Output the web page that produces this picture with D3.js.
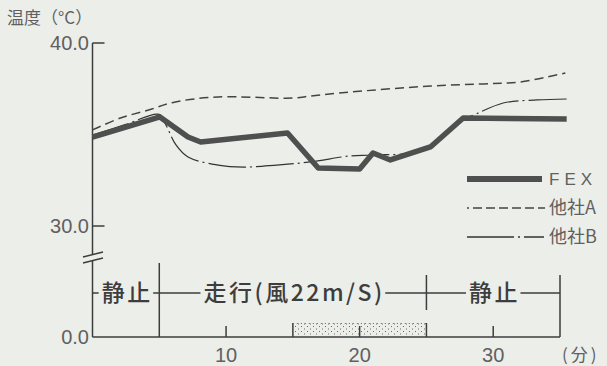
<!DOCTYPE html>
<html>
<head>
<meta charset="utf-8">
<script src="https://cdn.jsdelivr.net/npm/d3@7"></script>
<style>
  html, body { margin: 0; padding: 0; background: #eceeea; }
  svg { display: block; }
</style>
</head>
<body>
<svg id="chart" width="607" height="366"></svg>
<script>
// Elapsed time (minutes) and surface temperature (°C) for each product
const fexTime = [0, 5.05, 7.15, 8.1, 14.6, 16.9, 20.0, 21.0, 22.3, 25.3, 27.75, 35.5];
const fexTemp = [34.86, 35.96, 34.86, 34.59, 35.08, 33.17, 33.11, 33.99, 33.61, 34.32, 35.90, 35.85];

const aTime = [0, 2.1, 4.2, 6.2, 9.4, 15.0, 16.3, 19.3, 25.3, 29.0, 32.0, 35.4];
const aTemp = [35.25, 35.90, 36.34, 36.78, 37.05, 36.99, 37.10, 37.32, 37.65, 37.76, 37.87, 38.36];

const bTime = [0, 2.5, 5.0, 5.5, 6.25, 7.15, 9.4, 11.3, 13.8, 16.3, 19.3, 21.0, 24.75, 27.75, 28.3, 30.75, 33.3, 35.5];
const bTemp = [34.97, 35.55, 36.10, 35.52, 34.43, 33.77, 33.33, 33.22, 33.33, 33.50, 33.83, 33.88, 34.15, 35.90, 36.00, 36.72, 36.89, 36.94];

const seriesNames = ["FEX", "他社A", "他社B"];

// Axis ticks
const yTicks = [30, 40];
const yTickLabels = ["30.0", "40.0"];
const xTicks = [10, 20, 30];
const xTickLabels = ["10", "20", "30"];

// Test phases along the time axis
const phaseLabels = ["静止", "走行(風22m/S)", "静止"];
const phaseStart = [0, 5, 25];
const phaseEnd = [5, 25, 35];

// Period marked with a dotted band under the axis
const bandStart = 15;
const bandEnd = 25;

const svg = d3.select("#chart");
const ink = "#3d3d3d";
const grey = "#606060";
const jp = "'Noto Sans CJK JP', 'Noto Sans', sans-serif";
const num = "'Liberation Sans', Arial, sans-serif";

const x = d3.scaleLinear().domain([0, 35]).range([92.5, 560]);
const y = d3.scaleLinear().domain([30, 40]).range([226, 43]);
const baseY = 337;   // zero line of the broken axis
const phaseY = 293;  // row of the phase annotation

// Dot pattern for the band
const defs = svg.append("defs");
const pat = defs.append("pattern")
  .attr("id", "dots").attr("patternUnits", "userSpaceOnUse")
  .attr("width", 6).attr("height", 5);
pat.append("rect").attr("x", 1).attr("y", 1).attr("width", 1).attr("height", 1).attr("fill", "#6a6a6a");
pat.append("rect").attr("x", 4).attr("y", 3.5).attr("width", 1).attr("height", 1).attr("fill", "#6a6a6a");

// Y axis (broken between the temperature part and the zero line)
const axisG = svg.append("g").attr("stroke", ink).attr("stroke-width", 1.5).attr("fill", "none");
axisG.append("line").attr("x1", x(0)).attr("x2", x(0)).attr("y1", y(40)).attr("y2", 255);
axisG.append("line").attr("x1", x(0)).attr("x2", x(0)).attr("y1", 261).attr("y2", baseY);
axisG.append("line").attr("x1", 83).attr("y1", 257).attr("x2", 103).attr("y2", 252);
axisG.append("line").attr("x1", 83).attr("y1", 263).attr("x2", 103).attr("y2", 258);

// Y ticks (pointing inward) and labels
yTicks.forEach((t, i) => {
  axisG.append("line").attr("x1", x(0)).attr("x2", x(0) + 12).attr("y1", y(t)).attr("y2", y(t));
  svg.append("text").attr("x", 89).attr("y", y(t)).attr("dy", "0.36em")
    .attr("text-anchor", "end").attr("font-family", num)
    .attr("font-size", 20).attr("fill", grey).text(yTickLabels[i]);
});
svg.append("text").attr("x", 89).attr("y", baseY).attr("dy", "0.36em")
  .attr("text-anchor", "end").attr("font-family", num)
  .attr("font-size", 20).attr("fill", grey).text("0.0");

// Y title
svg.append("text").attr("x", 7).attr("y", 24)
  .attr("font-family", jp).attr("font-size", 17).attr("fill", grey).text("温度（°C）");

// X axis line
axisG.append("line").attr("x1", x(0)).attr("x2", x(35)).attr("y1", baseY).attr("y2", baseY);

// Dotted band under the axis
svg.append("rect").attr("x", x(bandStart)).attr("y", 323)
  .attr("width", x(bandEnd) - x(bandStart)).attr("height", baseY - 323)
  .attr("fill", "url(#dots)");
svg.append("line").attr("x1", x(bandStart)).attr("x2", x(bandEnd)).attr("y1", 323.5).attr("y2", 323.5)
  .attr("stroke", "#666").attr("stroke-width", 1).attr("stroke-dasharray", "1,3");
[bandStart, bandEnd].forEach(t => {
  axisG.append("line").attr("x1", x(t)).attr("x2", x(t)).attr("y1", 323).attr("y2", baseY);
});

// X ticks and labels
xTicks.forEach((t, i) => {
  axisG.append("line").attr("x1", x(t)).attr("x2", x(t)).attr("y1", baseY - 11).attr("y2", baseY);
  svg.append("text").attr("x", x(t)).attr("y", 355).attr("dy", "0.36em")
    .attr("text-anchor", "middle").attr("font-family", num)
    .attr("font-size", 20).attr("fill", grey).text(xTickLabels[i]);
});
svg.append("text").attr("x", 562).attr("y", 355).attr("dy", "0.36em")
  .attr("font-family", jp).attr("font-size", 17).attr("letter-spacing", 3)
  .attr("fill", grey).text("(分)");

// Phase annotation row
const phaseG = svg.append("g");
const ls = 2.5;
phaseLabels.forEach((lab, i) => {
  const x0 = x(phaseStart[i]), x1 = x(phaseEnd[i]);
  const cx = (x0 + x1) / 2;
  const txt = phaseG.append("text").attr("x", cx + ls / 2).attr("y", phaseY).attr("dy", "0.36em")
    .attr("text-anchor", "middle").attr("font-family", jp).attr("font-weight", 500)
    .attr("letter-spacing", ls)
    .attr("font-size", 23).attr("fill", ink).text(lab);
  const w = txt.node().getComputedTextLength() - ls;
  const gap = 3;
  axisG.append("line").attr("x1", x0).attr("x2", cx - w / 2 - gap).attr("y1", phaseY).attr("y2", phaseY);
  axisG.append("line").attr("x1", cx + w / 2 + gap).attr("x2", x1).attr("y1", phaseY).attr("y2", phaseY);
});
// Phase boundaries
axisG.append("line").attr("x1", x(phaseEnd[0])).attr("x2", x(phaseEnd[0])).attr("y1", 263).attr("y2", baseY);
axisG.append("line").attr("x1", x(phaseEnd[1])).attr("x2", x(phaseEnd[1])).attr("y1", 275).attr("y2", 310);
axisG.append("line").attr("x1", x(phaseEnd[2])).attr("x2", x(phaseEnd[2])).attr("y1", 275).attr("y2", baseY);

// Series lines
const styles = [
  { w: 5.5, dash: null, color: "#4f4f4f", curve: d3.curveLinear },
  { w: 1.5, dash: "9,5", color: "#444", curve: d3.curveCatmullRom },
  { w: 1.2, dash: "38,4,2,4", color: "#333", curve: d3.curveCatmullRom }
];
const series = [
  d3.zip(fexTime, fexTemp),
  d3.zip(aTime, aTemp),
  d3.zip(bTime, bTemp)
];
[2, 1, 0].forEach(i => {
  const line = d3.line().x(d => x(d[0])).y(d => y(d[1])).curve(styles[i].curve);
  svg.append("path").datum(series[i]).attr("d", line)
    .attr("fill", "none").attr("stroke", styles[i].color)
    .attr("stroke-width", styles[i].w)
    .attr("stroke-linejoin", "round")
    .attr("stroke-dasharray", styles[i].dash);
});

// Legend
const legY = [179, 208, 237];
const legDash = [null, "2,4,9,4,9,4,9,4,9,4,9,4,9", "47,4,2,4,20"];
seriesNames.forEach((name, i) => {
  svg.append("line").attr("x1", 467).attr("x2", i === 0 ? 542 : 545)
    .attr("y1", legY[i]).attr("y2", legY[i])
    .attr("stroke", styles[i].color).attr("stroke-width", i === 0 ? 6 : styles[i].w + 0.2)
    .attr("stroke-dasharray", legDash[i]);
  svg.append("text").attr("x", 549).attr("y", legY[i]).attr("dy", "0.36em")
    .attr("font-family", i === 0 ? num : jp)
    .attr("font-size", i === 0 ? 17 : 18).attr("letter-spacing", i === 0 ? 5 : 0)
    .attr("fill", grey).text(name);
});
</script>
</body>
</html>
